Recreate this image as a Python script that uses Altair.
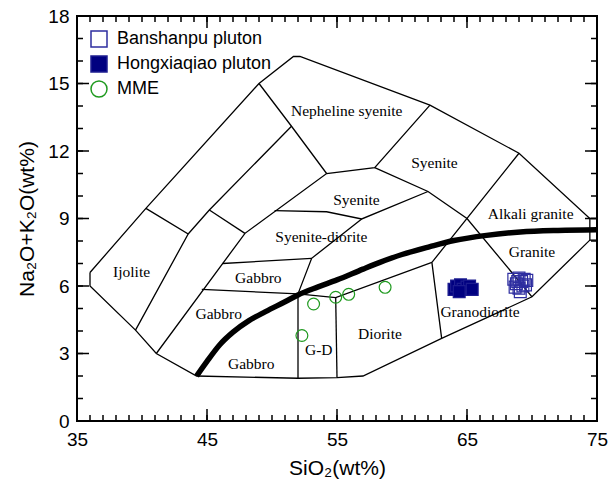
import altair as alt
import pandas as pd

# ---------------- data ----------------
x_major = [35, 45, 55, 65, 75]
x_minor = list(range(35, 76))
y_major = [0, 3, 6, 9, 12, 15, 18]
y_minor = list(range(0, 19))

# field boundary polylines (SiO2, Na2O+K2O)
boundary_x = {
    "outer": [36, 40.3, 49, 51.65, 52.15, 62.15, 69, 74.45, 74.45, 70, 63.05, 57, 55, 52, 44.2, 41.1, 39.5, 36, 36],
    "box1": [74.45, 75],
    "box2": [74.45, 75],
    "p2": [40.3, 43.55, 39.5],
    "p3": [43.55, 45.18, 51.5],
    "p4": [45.18, 47.92],
    "p5": [41.1, 47.92, 54.2, 57.9, 62.15],
    "p6": [49, 51.5, 54.2],
    "p7": [57.9, 62.0, 65.0, 70.0],
    "p8": [50.2, 54.2, 56.9, 62.0],
    "p9": [56.9, 53.05, 52.0],
    "p10": [46.2, 53.05],
    "p11": [44.6, 52.0, 54.9, 62.3],
    "p12": [69, 62.3, 63.05],
    "p13": [52.0, 52.0],
    "p14": [54.9, 55.0],
}
boundary_y = {
    "outer": [6.6, 9.45, 15, 16.2, 16.2, 14.04, 11.9, 9.0, 8.04, 5.52, 3.67, 2.0, 1.93, 1.9, 2.0, 3.0, 4.04, 6.0, 6.6],
    "box1": [9.0, 9.0],
    "box2": [8.04, 8.04],
    "p2": [9.45, 8.31, 4.04],
    "p3": [8.31, 9.38, 13.1],
    "p4": [9.38, 8.34],
    "p5": [3.0, 8.34, 11.0, 11.26, 14.04],
    "p6": [15, 13.1, 11.0],
    "p7": [11.26, 10.2, 9.0, 5.52],
    "p8": [9.35, 9.3, 8.98, 10.2],
    "p9": [8.98, 7.23, 5.65],
    "p10": [7.0, 7.23],
    "p11": [5.85, 5.65, 5.48, 7.05],
    "p12": [11.9, 7.05, 3.67],
    "p13": [5.65, 1.9],
    "p14": [5.48, 1.93],
}

# alkaline / subalkaline dividing curve
curve_x = [44.2, 45.0, 46.0, 47.0, 48.2, 49.5, 51.0, 52.0, 53.5, 55.0, 57.0, 58.3, 60.0, 62.15, 64.0, 66.5, 69.1, 72.0, 75.0]
curve_y = [2.0, 2.65, 3.4, 3.95, 4.45, 4.86, 5.3, 5.6, 5.95, 6.27, 6.75, 7.05, 7.4, 7.75, 8.02, 8.25, 8.4, 8.47, 8.5]

# field names
field_labels = ["Nepheline syenite", "Syenite", "Syenite", "Syenite-diorite", "Alkali granite",
                "Granite", "Granodiorite", "Diorite", "G-D", "Gabbro", "Gabbro", "Gabbro", "Ijolite"]
field_x = [55.75, 62.5, 56.5, 53.8, 69.9, 70.0, 66.0, 58.3, 53.6, 48.4, 45.9, 48.95, 39.2]
field_y = [13.8, 11.45, 9.82, 8.19, 9.2, 7.52, 4.86, 3.87, 3.16, 2.53, 4.74, 6.34, 6.64]

# samples
banshanpu_x = [68.6, 68.8, 69.0, 69.2, 69.4, 69.6, 68.7, 69.0, 69.3, 69.1, 69.5, 68.9]
banshanpu_y = [6.3, 6.1, 6.35, 6.2, 6.3, 6.25, 5.95, 5.9, 6.0, 5.75, 6.05, 6.2]
hongx_x = [64.0, 64.2, 64.5, 64.7, 65.0, 65.2, 65.4, 64.4]
hongx_y = [5.85, 6.0, 6.05, 5.85, 5.95, 6.0, 5.85, 5.75]
mme_x = [52.3, 53.2, 54.9, 55.9, 58.7]
mme_y = [3.8, 5.2, 5.5, 5.63, 5.94]

series_names = ["Banshanpu pluton", "Hongxiaqiao pluton", "MME"]

# ---------------- tables ----------------
rows = []
for k in boundary_x:
    for i, (a, b) in enumerate(zip(boundary_x[k], boundary_y[k])):
        rows.append({"seg": k, "i": i, "x": a, "y": b})
lines_df = pd.DataFrame(rows)
curve_df = pd.DataFrame({"x": curve_x, "y": curve_y, "i": range(len(curve_x))})
labels_df = pd.DataFrame({"label": field_labels, "x": field_x, "y": field_y})
pts_df = pd.concat([
    pd.DataFrame({"x": banshanpu_x, "y": banshanpu_y, "series": series_names[0]}),
    pd.DataFrame({"x": hongx_x, "y": hongx_y, "series": series_names[1]}),
    pd.DataFrame({"x": mme_x, "y": mme_y, "series": series_names[2]}),
], ignore_index=True)

W, H = 520, 405
xs = alt.Scale(domain=[35, 75], nice=False, zero=False)
ys = alt.Scale(domain=[0, 18], nice=False, zero=False)

xaxis = alt.Axis(values=x_major, ticks=False, domain=False, grid=False,
                 labelFont="Liberation Sans", labelFontSize=19, labelPadding=9,
                 labelColor="black", labelFlush=False, labelOverlap=False,
                 title="SiO₂(wt%)", titleFont="Liberation Sans", titleFontSize=21,
                 titleFontWeight="normal", titleColor="black", titlePadding=8)
yaxis = alt.Axis(values=y_major, ticks=False, domain=False, grid=False,
                 labelFont="Liberation Sans", labelFontSize=19, labelPadding=8,
                 labelColor="black", labelFlush=False, labelOverlap=False,
                 title="Na₂O+K₂O(wt%)", titleFont="Liberation Sans", titleFontSize=21,
                 titleFontWeight="normal", titleColor="black", titlePadding=10)


def ex(f):
    return alt.X(f, scale=xs, axis=xaxis)


def ey(f):
    return alt.Y(f, scale=ys, axis=yaxis)


lines = alt.Chart(lines_df).mark_line(color="black", strokeWidth=1.3).encode(
    x=ex("x:Q"), y=ey("y:Q"), detail="seg:N", order="i:Q")

curve = alt.Chart(curve_df).mark_line(color="black", strokeWidth=5.5, interpolate="monotone").encode(
    x=ex("x:Q"), y=ey("y:Q"), order="i:Q")

texts = alt.Chart(labels_df).mark_text(font="Liberation Serif", fontSize=15.5, color="black").encode(
    x=ex("x:Q"), y=ey("y:Q"), text="label:N")

leg = alt.Legend(title=None, orient="none", legendX=13, legendY=14, symbolSize=256,
                 symbolStrokeWidth=1.5, labelFont="Liberation Sans", labelFontSize=18,
                 labelColor="black", labelOffset=9, rowPadding=3, padding=0)

points = alt.Chart(pts_df).mark_point(size=140, strokeWidth=1.2, opacity=1, fillOpacity=1).encode(
    x=ex("x:Q"), y=ey("y:Q"),
    stroke=alt.Stroke("series:N", scale=alt.Scale(domain=series_names, range=["#2e2ea0", "#1c1c90", "#1f9a1f"]), legend=leg),
    fill=alt.Fill("series:N", scale=alt.Scale(domain=series_names, range=["transparent", "#000080", "transparent"]), legend=leg),
    shape=alt.Shape("series:N", scale=alt.Scale(domain=series_names, range=["square", "square", "circle"]), legend=leg),
)

# inward ticks on all four sides
xmaj = pd.DataFrame({"v": x_major})
xmin = pd.DataFrame({"v": x_minor})
ymaj = pd.DataFrame({"v": y_major})
ymin = pd.DataFrame({"v": y_minor})
tk = dict(color="black", strokeWidth=1.5)
ticks = [
    alt.Chart(xmaj).mark_rule(**tk).encode(x=ex("v:Q"), y=alt.value(H), y2=alt.value(H - 12)),
    alt.Chart(xmin).mark_rule(**tk).encode(x=ex("v:Q"), y=alt.value(H), y2=alt.value(H - 6)),
    alt.Chart(xmaj).mark_rule(**tk).encode(x=ex("v:Q"), y=alt.value(0), y2=alt.value(12)),
    alt.Chart(xmin).mark_rule(**tk).encode(x=ex("v:Q"), y=alt.value(0), y2=alt.value(6)),
    alt.Chart(ymaj).mark_rule(**tk).encode(y=ey("v:Q"), x=alt.value(0), x2=alt.value(12)),
    alt.Chart(ymin).mark_rule(**tk).encode(y=ey("v:Q"), x=alt.value(0), x2=alt.value(6)),
    alt.Chart(ymaj).mark_rule(**tk).encode(y=ey("v:Q"), x=alt.value(W), x2=alt.value(W - 12)),
    alt.Chart(ymin).mark_rule(**tk).encode(y=ey("v:Q"), x=alt.value(W), x2=alt.value(W - 6)),
]

chart = alt.layer(lines, curve, texts, *ticks, points).properties(
    width=W, height=H,
    padding={"left": 77, "top": 16, "right": 11, "bottom": 66},
    autosize=alt.AutoSizeParams(type="none"),
    background="white",
).configure_view(stroke="black", strokeWidth=2)

chart.save("out.html", embed_options={"renderer": "svg", "actions": False})
